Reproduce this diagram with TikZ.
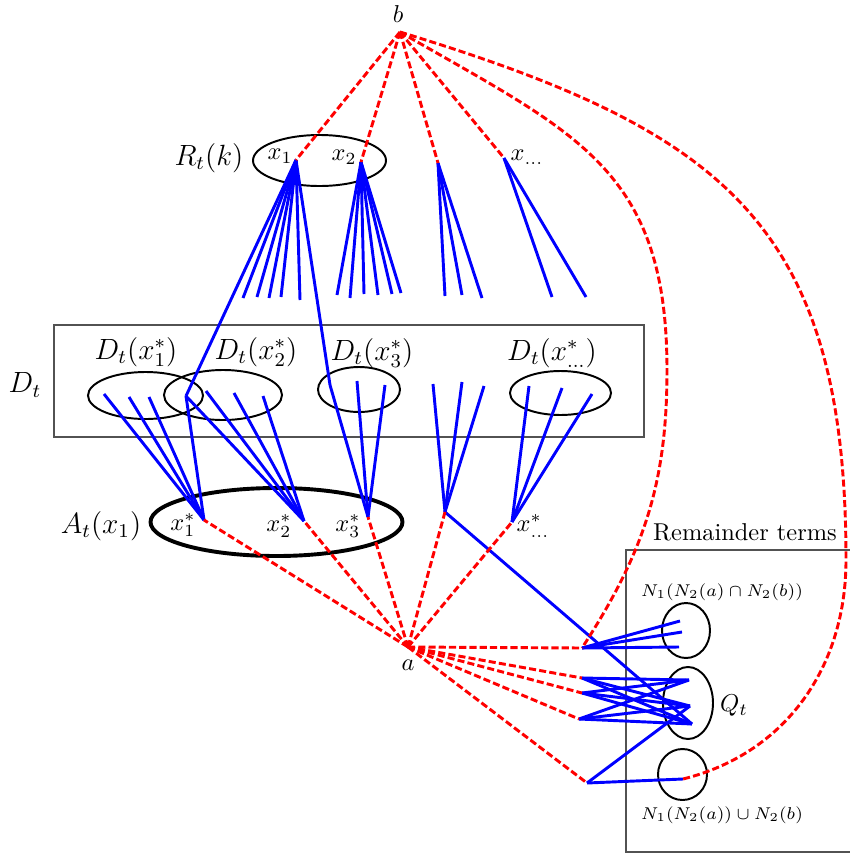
\documentclass[tikz,border=0pt]{standalone}
\usepackage{amsmath}
\usepackage{amssymb}
\usepackage{tikz}
\usetikzlibrary{shapes.geometric, positioning}
\newdimen\pxu
\pxu=0.0144cm

\begin{document}
\begin{tikzpicture}[x=0.0144cm, y=-0.0144cm,
	rd/.style={red, very thick, dash pattern=on 2.9pt off 1.3pt},
	bl/.style={blue, very thick},
	ell/.style={draw, ellipse, thick, inner sep=0pt},
	grp/.style={draw=black!68, thick}]
	\useasboundingbox (0,0) rectangle (850,856);

	\draw[grp] (54,325) rectangle (644,437);
	\draw[grp] (626,550) rectangle (852,852);

	\node[ell, minimum width=133\pxu, minimum height=51\pxu] (Rk) at (319.5,160.5) {};
	\node[ell, minimum width=115\pxu, minimum height=47\pxu] (D1) at (145.5,395.5) {};
	\node[ell, minimum width=118\pxu, minimum height=50\pxu] (D2) at (223,395) {};
	\node[ell, minimum width=82\pxu, minimum height=45\pxu] (D3) at (359,389.5) {};
	\node[ell, minimum width=101\pxu, minimum height=44\pxu] (D5) at (560.5,393) {};
	\node[ell, ultra thick, minimum width=252\pxu, minimum height=68\pxu] (At) at (276.5,522) {};
	\node[ell, minimum width=48\pxu, minimum height=55\pxu] (N) at (686,630.5) {};
	\node[ell, minimum width=50\pxu, minimum height=72\pxu] (Q) at (688,703) {};
	\node[ell, minimum width=49\pxu, minimum height=51\pxu] (M) at (682.5,774.5) {};

	\coordinate (b) at (400,32);
	\coordinate (x1) at (296,160);
	\coordinate (x2) at (361,162);
	\coordinate (x3) at (438,163);
	\coordinate (xd) at (504,158);
	\coordinate (e11) at (243,298);
	\coordinate (e12) at (257,297);
	\coordinate (e13) at (269,298);
	\coordinate (e14) at (281,297);
	\coordinate (e15) at (300,300);
	\coordinate (e21) at (337,295);
	\coordinate (e22) at (350,298);
	\coordinate (e23) at (364,294);
	\coordinate (e24) at (378,295);
	\coordinate (e25) at (392,294);
	\coordinate (e26) at (401,293);
	\coordinate (e31) at (445,296);
	\coordinate (e32) at (462,295);
	\coordinate (e33) at (482,298);
	\coordinate (e41) at (552,297);
	\coordinate (e42) at (586,297);
	\coordinate (v1) at (186,396);
	\coordinate (v3) at (330,385);
	\coordinate (d11) at (104,394);
	\coordinate (d12) at (129,397);
	\coordinate (d13) at (149,397);
	\coordinate (d21) at (206,391);
	\coordinate (d22) at (234,393);
	\coordinate (d23) at (263,396);
	\coordinate (d31) at (357,381);
	\coordinate (d32) at (385,385);
	\coordinate (d41) at (433,384);
	\coordinate (d42) at (462,382);
	\coordinate (d43) at (484,386);
	\coordinate (d51) at (529,386);
	\coordinate (d52) at (562,388);
	\coordinate (d53) at (592,394);
	\coordinate (s1) at (204,520);
	\coordinate (s2) at (304,521);
	\coordinate (s3) at (368,517);
	\coordinate (s4) at (445,512);
	\coordinate (s5) at (512,522);
	\coordinate (a) at (408,647);
	\coordinate (p1) at (582,648);
	\coordinate (p2) at (582,678);
	\coordinate (p3) at (582,693);
	\coordinate (p4) at (579,719);
	\coordinate (p5) at (587,783);
	\coordinate (n1) at (680,621);
	\coordinate (n2) at (682,632);
	\coordinate (n3) at (679,647);
	\coordinate (q1) at (689,680);
	\coordinate (q2) at (690,706);
	\coordinate (q3) at (692,724);
	\coordinate (m1) at (683,779);
	\coordinate (c1) at (667,370);
	\coordinate (c2) at (846,560);

	\node (lb) at (398,14) {$b$};
	\node (la) at (408,665) {$a$};
	\node (lRk) at (209,158) {\large $R_t(k)$};
	\node (lx1) at (280,156) {$x_1$};
	\node (lx2) at (344,157) {$x_2$};
	\node (lxd) at (527,157) {$x_{\dots}$};
	\node (lDt) at (25,385) {\large $D_t$};
	\node (lD1) at (136,352) {\large $D_t(x_1^*)$};
	\node (lD2) at (256,352) {\large $D_t(x_2^*)$};
	\node (lD3) at (372,353) {\large $D_t(x_3^*)$};
	\node (lD5) at (552,353) {\large $D_t(x_{\dots}^*)$};
	\node (lAt) at (101,526) {\large $A_t(x_1)$};
	\node (ls1) at (183,525) {$x_1^*$};
	\node (ls2) at (279,526) {$x_2^*$};
	\node (ls3) at (348,526) {$x_3^*$};
	\node (ls5) at (533,526) {$x_{\dots}^*$};
	\node (lQ) at (734,706) {$Q_t$};
	\node (lN) at (722,592) {\scriptsize $N_1(N_2(a)\cap N_2(b))$};
	\node (lM) at (722,815) {\scriptsize $N_1(N_2(a))\cup N_2(b)$};
	\node (lrem) at (745,532) {Remainder terms};

	\draw
	(x1) edge[bl] (e11) (x1) edge[bl] (e12) (x1) edge[bl] (e13)
	(x1) edge[bl] (e14) (x1) edge[bl] (e15)
	(x2) edge[bl] (e21) (x2) edge[bl] (e22) (x2) edge[bl] (e23)
	(x2) edge[bl] (e24) (x2) edge[bl] (e25) (x2) edge[bl] (e26)
	(x3) edge[bl] (e31) (x3) edge[bl] (e32) (x3) edge[bl] (e33)
	(xd) edge[bl] (e41) (xd) edge[bl] (e42)
	(x1) edge[bl] (v1) (v1) edge[bl] (s1) (v1) edge[bl] (s2)
	(x1) edge[bl] (v3) (v3) edge[bl] (s3)
	(d11) edge[bl] (s1) (d12) edge[bl] (s1) (d13) edge[bl] (s1)
	(d21) edge[bl] (s2) (d22) edge[bl] (s2) (d23) edge[bl] (s2)
	(d31) edge[bl] (s3) (d32) edge[bl] (s3)
	(d41) edge[bl] (s4) (d42) edge[bl] (s4) (d43) edge[bl] (s4)
	(d51) edge[bl] (s5) (d52) edge[bl] (s5) (d53) edge[bl] (s5)
	(s4) edge[bl] (q3)
	(p1) edge[bl] (n1) (p1) edge[bl] (n2) (p1) edge[bl] (n3)
	(p2) edge[bl] (q1) (p2) edge[bl] (q2) (p2) edge[bl] (q3)
	(p3) edge[bl] (q1) (p3) edge[bl] (q2) (p3) edge[bl] (q3)
	(p4) edge[bl] (q1) (p4) edge[bl] (q2) (p4) edge[bl] (q3)
	(p5) edge[bl] (q2) (p5) edge[bl] (m1);

	\draw
	(b) edge[rd] (x1) (b) edge[rd] (x2) (b) edge[rd] (x3) (b) edge[rd] (xd)
	(a) edge[rd] (s1) (a) edge[rd] (s2) (a) edge[rd] (s3) (a) edge[rd] (s4) (a) edge[rd] (s5)
	(a) edge[rd] (p1) (a) edge[rd] (p2) (a) edge[rd] (p3) (a) edge[rd] (p4) (a) edge[rd] (p5);
	\draw[rd] (b) to[out=-30, in=90, looseness=1.2] (c1) to[out=-90, in=57] (p1);
	\draw[rd] (b) to[out=-17, in=90, looseness=1.25] (c2) to[out=-90, in=14] (m1);
\end{tikzpicture}
\end{document}
